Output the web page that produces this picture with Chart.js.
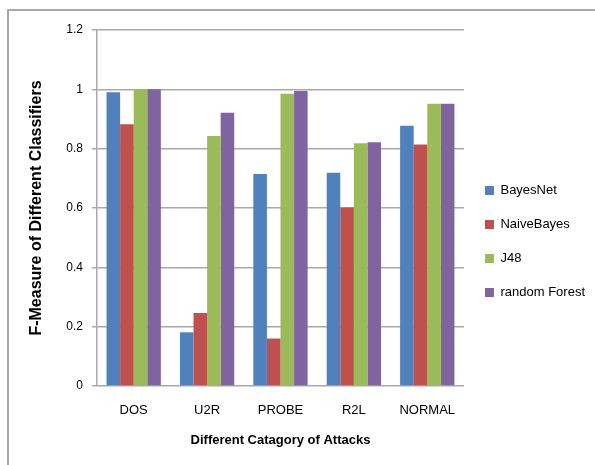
<!DOCTYPE html>
<html>
<head>
<meta charset="utf-8">
<script src="https://cdn.jsdelivr.net/npm/chart.js@4/dist/chart.umd.min.js"></script>
<style>
  html, body { margin: 0; padding: 0; background: #fff; }
  #wrap { position: relative; width: 595px; height: 465px; }
  #frame { position: absolute; left: 7px; top: 9px; right: 0; bottom: 0;
           border-left: 2px solid #a8a8a8; border-top: 2px solid #a8a8a8; pointer-events: none; }
  canvas { position: absolute; left: 0; top: 0; }
</style>
</head>
<body>
<div id="wrap">
  <canvas id="c" width="595" height="465"></canvas>
  <div id="frame"></div>
</div>
<script>
// Attack categories and F-measure per classifier
const categories = ['DOS', 'U2R', 'PROBE', 'R2L', 'NORMAL'];
const bayesNet     = [0.990, 0.181, 0.715, 0.719, 0.877];
const naiveBayes   = [0.882, 0.246, 0.160, 0.602, 0.814];
const j48          = [1.000, 0.843, 0.985, 0.818, 0.951];
const randomForest = [1.000, 0.921, 0.994, 0.822, 0.951];
const seriesNames  = ['BayesNet', 'NaiveBayes', 'J48', 'random Forest'];
const yTicks       = [0, 0.2, 0.4, 0.6, 0.8, 1, 1.2];

const colors = ['#4F81BD', '#C0504D', '#9BBB59', '#8064A2'];
const font = 'Liberation Sans, Arial, sans-serif';

const data = {
  labels: categories,
  datasets: [bayesNet, naiveBayes, j48, randomForest].map((vals, i) => ({
    label: seriesNames[i],
    data: vals,
    backgroundColor: colors[i],
    borderWidth: 0,
    categoryPercentage: 0.74,
    barPercentage: 1.0
  }))
};

new Chart(document.getElementById('c'), {
  type: 'bar',
  data,
  options: {
    responsive: false,
    animation: false,
    devicePixelRatio: 1,
    layout: { padding: { left: 0, top: 30, right: 0, bottom: 12 } },
    plugins: {
      tooltip: { enabled: false },
      legend: {
        position: 'right',
        align: 'center',
        maxWidth: 132,
        labels: {
          boxWidth: 9,
          boxHeight: 9,
          padding: 21,
          color: '#000',
          font: { family: font, size: 13 }
        }
      }
    },
    scales: {
      x: {
        grid: { display: false, drawTicks: false },
        border: { display: false },
        ticks: { color: '#000', padding: 17, font: { family: font, size: 13 } },
        title: {
          display: true,
          text: 'Different Catagory of Attacks',
          color: '#000',
          font: { family: font, size: 13, weight: 'bold' },
          padding: { top: 10, bottom: 5 }
        },
        afterFit: (s) => { s.height = 465 - 386 - 12; }
      },
      y: {
        min: 0,
        max: 1.2,
        afterBuildTicks: (s) => { s.ticks = yTicks.map(v => ({ value: v })); },
        grid: { color: '#a8a8a8', lineWidth: 1.5, tickLength: 5, drawTicks: true },
        border: { display: true, color: '#a8a8a8', width: 1.5 },
        ticks: {
          color: '#000',
          padding: 9,
          font: { family: font, size: 12 },
          callback: (v) => String(Math.round(v * 10) / 10)
        },
        title: {
          display: true,
          text: 'F-Measure of Different Classifiers',
          color: '#000',
          font: { family: font, size: 16, weight: 'bold' },
          padding: { top: 27, bottom: 0 }
        },
        afterFit: (s) => { s.width = 97; }
      }
    }
  }
});
</script>
</body>
</html>
